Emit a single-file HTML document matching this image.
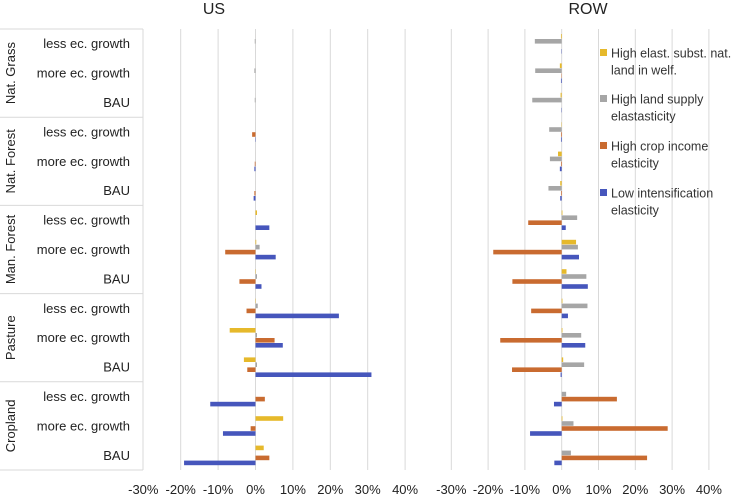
<!DOCTYPE html>
<html><head><meta charset="utf-8"><style>
body{margin:0;background:#fff;}
svg{display:block;font-family:"Liberation Sans",Calibri,sans-serif;}
</style></head><body>
<svg id="c" width="736" height="495"></svg>
<script>
const groups=["Nat. Grass","Nat. Forest","Man. Forest","Pasture","Cropland"];
const scenarios=["less ec. growth","more ec. growth","BAU"];
const seriesNames=["High elast. subst. nat. land in welf.","High land supply elastasticity","High crop income elasticity","Low intensification elasticity"];
const colors=["#E6B92B","#A6A6A6","#C96B30","#4656BC"];
const ticks=[-30,-20,-10,0,10,20,30,40];
// rows top->bottom: [yellow, gray, orange, blue]
const usYellow=[0,0,0, 0,0,0, 0.4,0.2,0.1, -0.1,-6.9,-3.1, 0,7.4,2.2];
const usGray=[-0.2,-0.3,-0.2, 0,0,0, 0,1.1,0.4, 0.6,0.4,0.4, 0,0,0];
const usOrange=[0,0,0, -0.9,-0.2,-0.3, 0,-8.1,-4.3, -2.4,5.1,-2.2, 2.5,-1.3,3.7];
const usBlue=[0,0,0, -0.1,-0.3,-0.5, 3.7,5.4,1.6, 22.3,7.3,31.0, -12.1,-8.7,-19.1];
const rowYellow=[-0.2,-0.5,-0.3, -0.1,-1.0,-0.4, 0.2,3.9,1.3, 0.2,0.2,0.4, 0,0.2,0];
const rowGray=[-7.3,-7.2,-8.0, -3.4,-3.2,-3.6, 4.2,4.4,6.7, 7.0,5.3,6.1, 1.2,3.2,2.5];
const rowOrange=[0,-0.1,0, -0.2,-0.2,-0.2, -9.1,-18.6,-13.4, -8.3,-16.7,-13.5, 15.0,28.8,23.2];
const rowBlue=[-0.1,-0.2,-0.1, -0.2,-0.5,-0.4, 1.1,4.7,7.1, 1.7,6.4,-0.3, -2.1,-8.6,-2.0];

const NS="http://www.w3.org/2000/svg";
const svg=document.getElementById('c');
function mk(t,a,txt){const e=document.createElementNS(NS,t);for(const k in a)e.setAttribute(k,a[k]);if(txt!==undefined)e.textContent=txt;svg.appendChild(e);return e;}
const plotTop=29,plotBot=470,nRows=15,rowH=(plotBot-plotTop)/nRows;
function yRow(i){return plotTop+rowH*(i+0.5);}
const panels=[
 {name:"US",zero:255.5,ppu:3.74,data:[usYellow,usGray,usOrange,usBlue],tx:214},
 {name:"ROW",zero:561.7,ppu:3.68,data:[rowYellow,rowGray,rowOrange,rowBlue],tx:588}
];
panels.forEach(p=>{
 const xs=v=>p.zero+v*p.ppu;
 let t=mk('text',{x:p.tx,y:14,'text-anchor':'middle','font-size':16,fill:'#222'},p.name);
 
 
 ticks.forEach(v=>{
  if(!(p.name==="US"&&v===-30)){
   const g=mk('line',{x1:xs(v),x2:xs(v),y1:plotTop,y2:plotBot,stroke:'#D9D9D9','stroke-width':1});
   
   
  }
  const l=mk('text',{x:xs(v),y:494,'text-anchor':'middle','font-size':13,fill:'#222'},v+'%');
  
  
 });
 p.data.forEach((arr,s)=>{
  arr.forEach((v,i)=>{
   const y=yRow(i)+(s-2)*5;
   const x0=xs(Math.min(0,v)),w=Math.abs(xs(v)-xs(0));
   const r=mk('rect',{x:x0,y:y+0.3,width:Math.max(w,0.01),height:4.6,fill:colors[s]});
   
   
  });
 });
});
const ax=mk('line',{x1:143,x2:143,y1:plotTop,y2:plotBot,stroke:'#D9D9D9'});


for(let g=0;g<=groups.length;g++){
 const y=plotTop+g*3*rowH;
 const l=mk('line',{x1:0,x2:143,y1:y,y2:y,stroke:'#D9D9D9'});
 
 
}
groups.forEach((gname,g)=>{
 const cy=plotTop+(g*3+1.5)*rowH;
 const t=mk('text',{x:0,y:0,'text-anchor':'middle','font-size':13,fill:'#222',transform:`translate(15,${cy}) rotate(-90)`},gname);
 
 
 scenarios.forEach((s,j)=>{
  const tt=mk('text',{x:130,y:yRow(g*3+j)+4.5,'text-anchor':'end','font-size':13,fill:'#222'},s);
  
  
 });
});
const legY=[53,99,146,193];
const legLines=[["High elast. subst. nat.","land in welf."],["High land supply","elastasticity"],["High crop income","elasticity"],["Low intensification","elasticity"]];
legLines.forEach((ls,i)=>{
 const r=mk('rect',{x:600,y:legY[i]-4,width:7,height:7,fill:colors[i]});
 
 
 ls.forEach((s,k)=>{
  const t=mk('text',{x:611,y:legY[i]+4.5+k*17,'font-size':12.5,fill:'#333'},s);
  
  
 });
});
</script>
</body></html>
